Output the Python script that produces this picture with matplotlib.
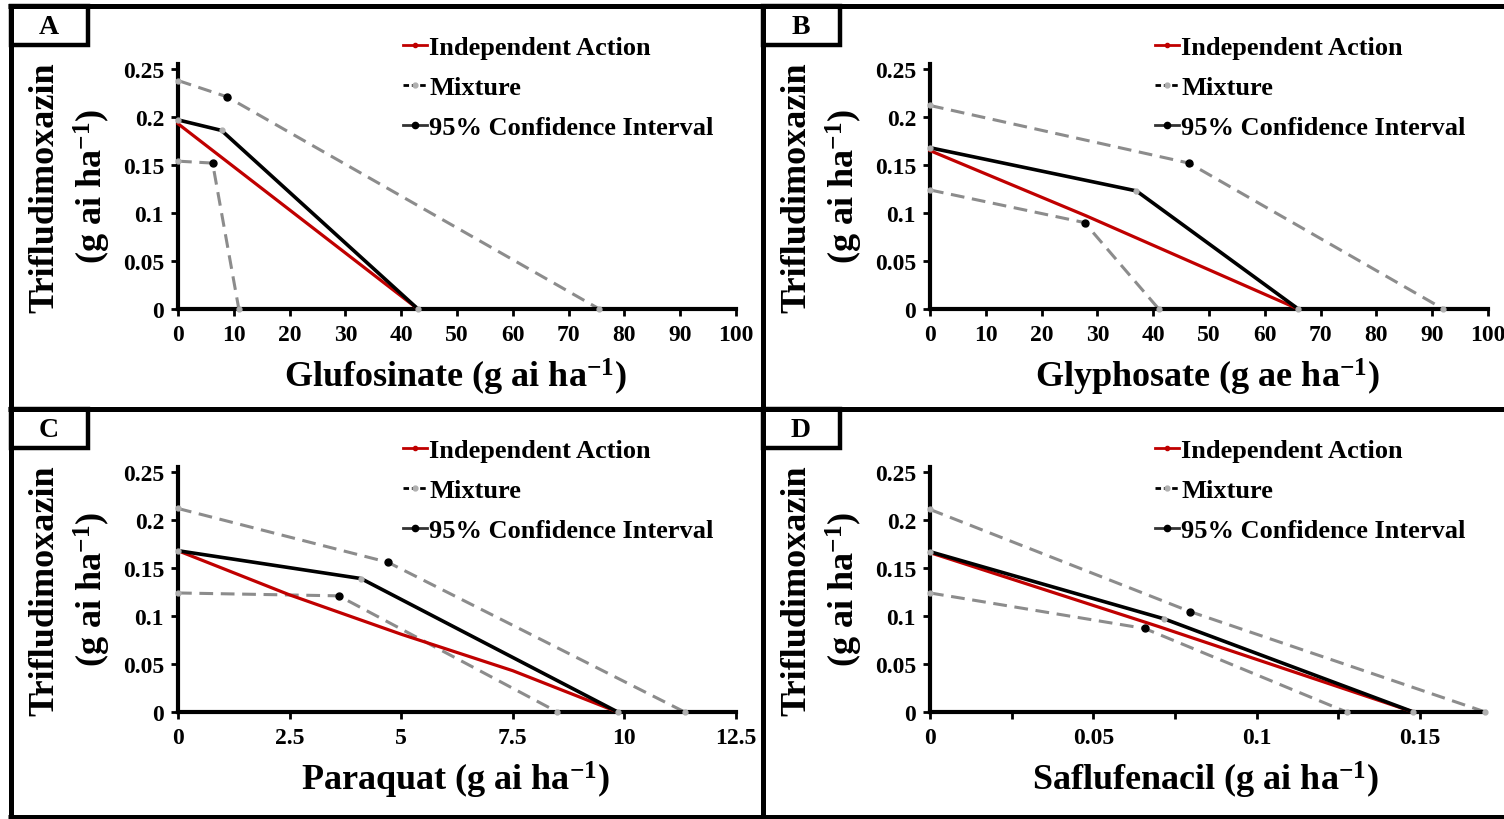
import matplotlib
matplotlib.use("Agg")
import matplotlib.pyplot as plt
from matplotlib.lines import Line2D
from matplotlib.patches import Rectangle

plt.rcParams['font.family'] = ['Liberation Serif', 'DejaVu Serif']
plt.rcParams['font.weight'] = 'bold'
plt.rcParams['mathtext.default'] = 'regular'

# ---------------- data ----------------
y_ticks = [0, 0.05, 0.1, 0.15, 0.2, 0.25]
y_ticklabels = ['0', '0.05', '0.1', '0.15', '0.2', '0.25']

# Panel A: Glufosinate
A_ia_x = [0, 43];            A_ia_y = [0.193, 0]
A_mix_x = [0, 7.8, 43];      A_mix_y = [0.197, 0.186, 0]
A_up_x = [0, 8.8, 75.5];     A_up_y = [0.238, 0.221, 0]
A_lo_x = [0, 6.2, 10.9];     A_lo_y = [0.154, 0.152, 0]
A_xticks = [0, 10, 20, 30, 40, 50, 60, 70, 80, 90, 100]
A_xticklabels = ['0', '10', '20', '30', '40', '50', '60', '70', '80', '90', '100']

# Panel B: Glyphosate
B_ia_x = [0, 28, 66];        B_ia_y = [0.165, 0.097, 0]
B_mix_x = [0, 37, 66];       B_mix_y = [0.168, 0.123, 0]
B_up_x = [0, 46.4, 92];      B_up_y = [0.212, 0.152, 0]
B_lo_x = [0, 27.7, 41];      B_lo_y = [0.124, 0.090, 0]
B_xticks = A_xticks
B_xticklabels = A_xticklabels

# Panel C: Paraquat
C_ia_x = [0, 2.5, 5, 7.5, 9.85];   C_ia_y = [0.168, 0.122, 0.081, 0.043, 0]
C_mix_x = [0, 4.1, 9.85];          C_mix_y = [0.168, 0.139, 0]
C_up_x = [0, 4.7, 11.35];          C_up_y = [0.212, 0.156, 0]
C_lo_x = [0, 3.6, 8.5];            C_lo_y = [0.124, 0.121, 0]
C_xticks = [0, 2.5, 5, 7.5, 10, 12.5]
C_xticklabels = ['0', '2.5', '5', '7.5', '10', '12.5']

# Panel D: Saflufenacil
D_ia_x = [0, 0.07, 0.148];         D_ia_y = [0.166, 0.089, 0]
D_mix_x = [0, 0.0717, 0.148];      D_mix_y = [0.167, 0.097, 0]
D_up_x = [0, 0.0797, 0.17];        D_up_y = [0.211, 0.1045, 0]
D_lo_x = [0, 0.0657, 0.1275];      D_lo_y = [0.124, 0.087, 0]
D_xticks = [0, 0.05, 0.1, 0.15]
D_xticklabels = ['0', '0.05', '0.1', '0.15']
D_xminor = [0.025, 0.075, 0.125]

legend_labels = ['Independent Action', 'Mixture', '95% Confidence Interval']
ylabel_1 = 'Trifludimoxazin'
ylabel_2 = r'(g ai ha$^{-1}$)'

# ---------------- style ----------------
RED = '#C00000'
GRAY = '#8C8C8C'
GRAYM = '#B0B0B0'

W, H = 1504, 820
fig = plt.figure(figsize=(W / 100, H / 100), dpi=100)
fig.patch.set_facecolor('white')


def fx(px):
    return px / W


def fy(py):
    return 1 - py / H


panels = [
    dict(letter='A', box=(178, 736, 310), xlim=(0, 100), xt=A_xticks, xtl=A_xticklabels, minor=None,
         ia=(A_ia_x, A_ia_y), mix=(A_mix_x, A_mix_y), up=(A_up_x, A_up_y), lo=(A_lo_x, A_lo_y),
         xlabel=r'Glufosinate (g ai ha$^{-1}$)', origin=(11, 7)),
    dict(letter='B', box=(930, 1488, 310), xlim=(0, 100), xt=B_xticks, xtl=B_xticklabels, minor=None,
         ia=(B_ia_x, B_ia_y), mix=(B_mix_x, B_mix_y), up=(B_up_x, B_up_y), lo=(B_lo_x, B_lo_y),
         xlabel=r'Glyphosate (g ae ha$^{-1}$)', origin=(763, 7)),
    dict(letter='C', box=(178, 736, 713), xlim=(0, 12.5), xt=C_xticks, xtl=C_xticklabels, minor=None,
         ia=(C_ia_x, C_ia_y), mix=(C_mix_x, C_mix_y), up=(C_up_x, C_up_y), lo=(C_lo_x, C_lo_y),
         xlabel=r'Paraquat (g ai ha$^{-1}$)', origin=(11, 410)),
    dict(letter='D', box=(930, 930 + 490 * 0.17 / 0.15, 713), xlim=(0, 0.17), xt=D_xticks, xtl=D_xticklabels,
         minor=D_xminor,
         ia=(D_ia_x, D_ia_y), mix=(D_mix_x, D_mix_y), up=(D_up_x, D_up_y), lo=(D_lo_x, D_lo_y),
         xlabel=r'Saflufenacil (g ai ha$^{-1}$)', origin=(763, 410)),
]

YTOP = 0.255
for p in panels:
    x0, x1, ybot = p['box']
    ytop = ybot - 240 * YTOP / 0.25
    ax = fig.add_axes([fx(x0), fy(ybot), (x1 - x0) / W, (ybot - ytop) / H])
    ax.set_xlim(*p['xlim'])
    ax.set_ylim(0, YTOP)
    for s in ['top', 'right']:
        ax.spines[s].set_visible(False)
    for s in ['left', 'bottom']:
        ax.spines[s].set_linewidth(3)
        ax.spines[s].set_color('black')
    ax.set_xticks(p['xt'])
    ax.set_xticklabels(p['xtl'])
    ax.set_yticks(y_ticks)
    ax.set_yticklabels(y_ticklabels)
    if p['minor'] is not None:
        ax.set_xticks(p['minor'], minor=True)
    ax.tick_params(axis='both', which='both', direction='out', length=5, width=2, labelsize=17, pad=6)
    ax.tick_params(axis='y', pad=5)
    ax.patch.set_alpha(0)

    ux, uy = p['up']
    lx, ly = p['lo']
    for xs, ys in [(ux, uy), (lx, ly)]:
        ax.plot(xs, ys, ls=(0, (4.5, 2.5)), color=GRAY, lw=2.2, zorder=2, clip_on=False)
        ax.plot(xs[1:2], ys[1:2], ls='none', marker='o', ms=5, color='black', zorder=5, clip_on=False)
        ax.plot(xs[0::2], ys[0::2], ls='none', marker='o', ms=3.5, color=GRAYM, zorder=5, clip_on=False)
    ix, iy = p['ia']
    ax.plot(ix, iy, color=RED, lw=2.3, zorder=3, clip_on=False)
    mx, my = p['mix']
    ax.plot(mx, my, color='black', lw=2.6, zorder=4, clip_on=False, marker='o', ms=3.5,
            mfc=GRAYM, mec=GRAYM)

    handles = [
        Line2D([], [], color=RED, lw=2, marker='o', ms=3, mfc=RED, mec=RED),
        Line2D([], [], color='black', lw=2, ls=(0, (2, 1)), marker='o', ms=3.5, mfc=GRAYM, mec=GRAYM),
        Line2D([], [], color='#333333', lw=2, marker='o', ms=4.5, mfc='black', mec='black'),
    ]
    lx0 = x0 + 225
    ly0 = p['origin'][1] + 30
    ax.legend(handles, legend_labels, loc='upper left', bbox_to_anchor=(fx(lx0), fy(ly0)),
              bbox_transform=fig.transFigure, frameon=False, fontsize=19, handlelength=0.9,
              handletextpad=0.1, labelspacing=0.62, borderpad=0, borderaxespad=0)

    # axis labels
    fig.text(fx((x0 + x1) / 2 - 2), fy(ybot + 67), p['xlabel'], ha='center', va='center',
             fontsize=26, fontweight='bold')
    ymid = ybot - 122
    fig.text(fx(x0 - 133), fy(ymid), ylabel_1, rotation=90, ha='center', va='center',
             fontsize=26, fontweight='bold')
    fig.text(fx(x0 - 86), fy(ymid - 2), ylabel_2, rotation=90, ha='center', va='center',
             fontsize=26, fontweight='bold')

    # panel letter box
    ox, oy = p['origin']
    fig.patches.append(Rectangle((fx(ox), fy(oy + 39)), 77 / W, 39 / H, transform=fig.transFigure,
                                 fill=False, edgecolor='black', lw=3.2, zorder=10))
    fig.text(fx(ox + 38), fy(oy + 21), p['letter'], ha='center', va='center', fontsize=20,
             fontweight='bold')

# panel borders
border_kw = dict(transform=fig.transFigure, color='black', lw=3.6, solid_capstyle='butt')
fig.lines.append(Line2D([fx(8), 1], [fy(7), fy(7)], **border_kw))
fig.lines.append(Line2D([fx(8), 1], [fy(410), fy(410)], **border_kw))
fig.lines.append(Line2D([fx(8), 1], [fy(818), fy(818)], **border_kw))
fig.lines.append(Line2D([fx(11), fx(11)], [fy(5), 0], **border_kw))
fig.lines.append(Line2D([fx(763), fx(763)], [fy(5), 0], **border_kw))

fig.savefig('out.png', dpi=100, facecolor='white')
